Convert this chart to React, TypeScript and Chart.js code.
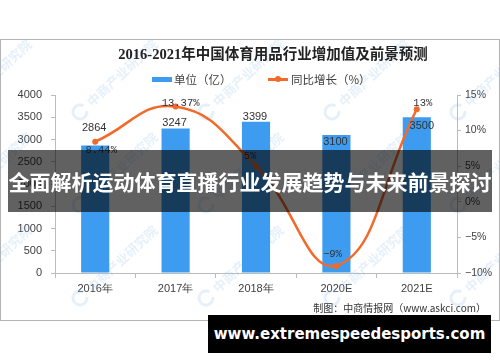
import React, { useEffect, useRef } from 'react';
import { Chart, registerables } from 'chart.js';
Chart.register(...registerables);

const categories = ['2016年', '2017年', '2018年', '2020E', '2021E'];
const outputValues = [2864, 3247, 3399, 3100, 3500];
const growthValues = [8.44, 13.37, 5, -9, 13];
const outputLabels = ['2864', '3247', '3399', '3100', '3500'];
const growthLabels = ['8.44%', '13.37%', '5%', '−9%', '13%'];
const titleText = '2016-2021年中国体育用品行业增加值及前景预测';
const legendBar = '单位（亿）';
const legendLine = '同比增长（%）';
const sourceText = '制图：中商情报网（www.askci.com）';
const bannerText = '全面解析运动体育直播行业发展趋势与未来前景探讨';
const footerText = 'www.extremespeedesports.com';
const watermarkText = '中商产业研究院';

const BAR_COLOR = '#3e9cf0';
const LINE_COLOR = '#f26a2a';
const AXIS_COLOR = '#bcbcbc';
const TEXT_COLOR = '#404040';

// label placement relative to each mark (style, not data)
const barLabelShift = [[-1, -18], [-1, -5.5], [-1, -5], [-1, 7], [5, 9]];
const lineLabelShift = [[6, 9], [5, -3], [-6, -10], [-4, -12], [6, -6]];

const watermarkPlugin = {
  id: 'watermark',
  beforeDatasetsDraw(chart: any) {
    const ctx = chart.ctx;
    ctx.save();
    ctx.font = 'bold 13px "Noto Sans CJK SC"';
    ctx.fillStyle = 'rgba(140,185,230,0.22)';
    ctx.strokeStyle = 'rgba(140,185,230,0.22)';
    const xs = [-46, 80, 206, 332, 458];
    const ys = [112, 205, 298];
    for (const x of xs) {
      for (const y of ys) {
        ctx.save();
        ctx.translate(x, y);
        ctx.rotate(-Math.PI / 4.2);
        ctx.lineWidth = 3;
        ctx.beginPath();
        ctx.arc(0, 0, 7, 0.6, Math.PI * 1.9);
        ctx.stroke();
        ctx.textBaseline = 'middle';
        ctx.fillText(watermarkText, 12, 0);
        ctx.restore();
      }
    }
    ctx.restore();
  },
};

const labelPlugin = {
  id: 'valueLabels',
  afterDatasetsDraw(chart: any) {
    const ctx = chart.ctx;
    ctx.save();
    ctx.textAlign = 'center';
    ctx.textBaseline = 'middle';
    ctx.fillStyle = '#333333';
    const barMeta = chart.getDatasetMeta(0);
    ctx.font = '11px "Liberation Sans"';
    barMeta.data.forEach((el: any, i: number) => {
      const [dx, dy] = barLabelShift[i];
      ctx.fillText(outputLabels[i], el.x + dx, el.y + dy);
    });
    const lineMeta = chart.getDatasetMeta(1);
    ctx.font = '10.5px "Liberation Mono"';
    lineMeta.data.forEach((el: any, i: number) => {
      const [dx, dy] = lineLabelShift[i];
      ctx.fillText(growthLabels[i], el.x + dx, el.y + dy);
    });
    ctx.restore();
  },
};

function ChartCanvas() {
  const ref = useRef<HTMLCanvasElement>(null);
  useEffect(() => {
    if (!ref.current) return;
    const tickFont = { family: '"Liberation Sans"', size: 11 };
    const chart = new Chart(ref.current, {
      type: 'bar',
      data: {
        labels: categories,
        datasets: [
          {
            type: 'bar',
            label: legendBar,
            data: outputValues,
            backgroundColor: BAR_COLOR,
            yAxisID: 'y',
            barPercentage: 0.35,
            categoryPercentage: 1,
            order: 1,
          },
          {
            type: 'line',
            label: legendLine,
            data: growthValues,
            borderColor: LINE_COLOR,
            backgroundColor: LINE_COLOR,
            borderWidth: 2.5,
            pointRadius: 3,
            pointBorderWidth: 0,
            tension: 0.45,
            yAxisID: 'y1',
            order: 0,
          },
        ],
      },
      options: {
        responsive: false,
        animation: false,
        devicePixelRatio: 1,
        layout: { padding: { top: 95, left: 0, right: 0, bottom: 0 } },
        plugins: {
          legend: { display: false },
          title: { display: false },
          tooltip: { enabled: false },
        },
        scales: {
          x: {
            grid: { offset: true, drawOnChartArea: false, tickLength: 5, color: AXIS_COLOR },
            border: { color: AXIS_COLOR },
            ticks: { font: tickFont, color: TEXT_COLOR, padding: 4 },
            afterFit: (s: any) => { s.height = 89; },
          },
          y: {
            position: 'left',
            min: 0,
            max: 4000,
            grid: { drawOnChartArea: false, tickLength: 4, color: AXIS_COLOR },
            border: { color: AXIS_COLOR },
            ticks: { stepSize: 500, font: tickFont, color: TEXT_COLOR, padding: 9, callback: (v: any) => String(v) },
            afterFit: (s: any) => { s.width = 55; },
          },
          y1: {
            position: 'right',
            min: -10,
            max: 15,
            grid: { drawOnChartArea: false, tickLength: 4, color: AXIS_COLOR },
            border: { color: AXIS_COLOR },
            ticks: {
              stepSize: 5,
              font: { family: '"Liberation Sans"', size: 10.5 },
              color: TEXT_COLOR,
              padding: 4,
              callback: (v: any) => (v < 0 ? '−' + Math.abs(v) : String(v)) + '%',
            },
            afterFit: (s: any) => { s.width = 43; },
          },
        },
      },
      plugins: [watermarkPlugin, labelPlugin],
    } as any);
    return () => chart.destroy();
  }, []);
  return (
    <canvas
      ref={ref}
      width={500}
      height={362}
      style={{ position: 'absolute', left: 0, top: 0, width: 500, height: 362 }}
    />
  );
}

export default function App() {
  return (
    <div style={{ position: 'fixed', left: 0, top: 0, width: 500, height: 362, background: '#fff', overflow: 'hidden' }}>
      <div style={{ position: 'absolute', left: 0, top: 39, width: 500, height: 282, border: '1px solid #b4b4b4', boxSizing: 'border-box' }} />
      <ChartCanvas />
      <div style={{ position: 'absolute', left: 73, width: 400, top: 44, height: 20, lineHeight: '20px', textAlign: 'center', fontFamily: '"Liberation Serif", "Noto Sans CJK SC"', fontWeight: 'bold', fontSize: 14.5, color: '#222' }}>
        {titleText}
      </div>
      <div style={{ position: 'absolute', left: 152, top: 77, width: 20, height: 5, background: BAR_COLOR }} />
      <div style={{ position: 'absolute', left: 174, top: 71, height: 16, lineHeight: '16px', fontFamily: '"Noto Sans CJK SC"', fontSize: 11.5, color: TEXT_COLOR, whiteSpace: 'nowrap' }}>
        {legendBar}
      </div>
      <div style={{ position: 'absolute', left: 268, top: 78, width: 20, height: 2.5, background: LINE_COLOR }} />
      <div style={{ position: 'absolute', left: 275, top: 76, width: 6, height: 6, borderRadius: 3, background: LINE_COLOR }} />
      <div style={{ position: 'absolute', left: 291, top: 71, height: 16, lineHeight: '16px', fontFamily: '"Noto Sans CJK SC"', fontSize: 11.5, color: TEXT_COLOR, whiteSpace: 'nowrap' }}>
        {legendLine}
      </div>
      <div style={{ position: 'absolute', right: 14, top: 300, height: 16, lineHeight: '16px', fontFamily: '"Noto Sans CJK SC"', fontSize: 10, color: '#333', whiteSpace: 'nowrap' }}>
        {sourceText}
      </div>
      <div style={{ position: 'absolute', left: 8, top: 150, width: 484, height: 62, background: 'rgba(0,0,0,0.62)', display: 'flex', alignItems: 'center', justifyContent: 'center' }}>
        <span style={{ fontFamily: '"Noto Sans CJK SC"', fontWeight: 'bold', fontSize: 21, color: '#fff', whiteSpace: 'nowrap' }}>{bannerText}</span>
      </div>
      <div style={{ position: 'absolute', left: 208, top: 315, width: 283, height: 38, background: '#000', display: 'flex', alignItems: 'center', justifyContent: 'center' }}>
        <span style={{ fontFamily: '"DejaVu Sans"', fontWeight: 'bold', fontSize: 15, color: '#fff', whiteSpace: 'nowrap' }}>{footerText}</span>
      </div>
    </div>
  );
}
